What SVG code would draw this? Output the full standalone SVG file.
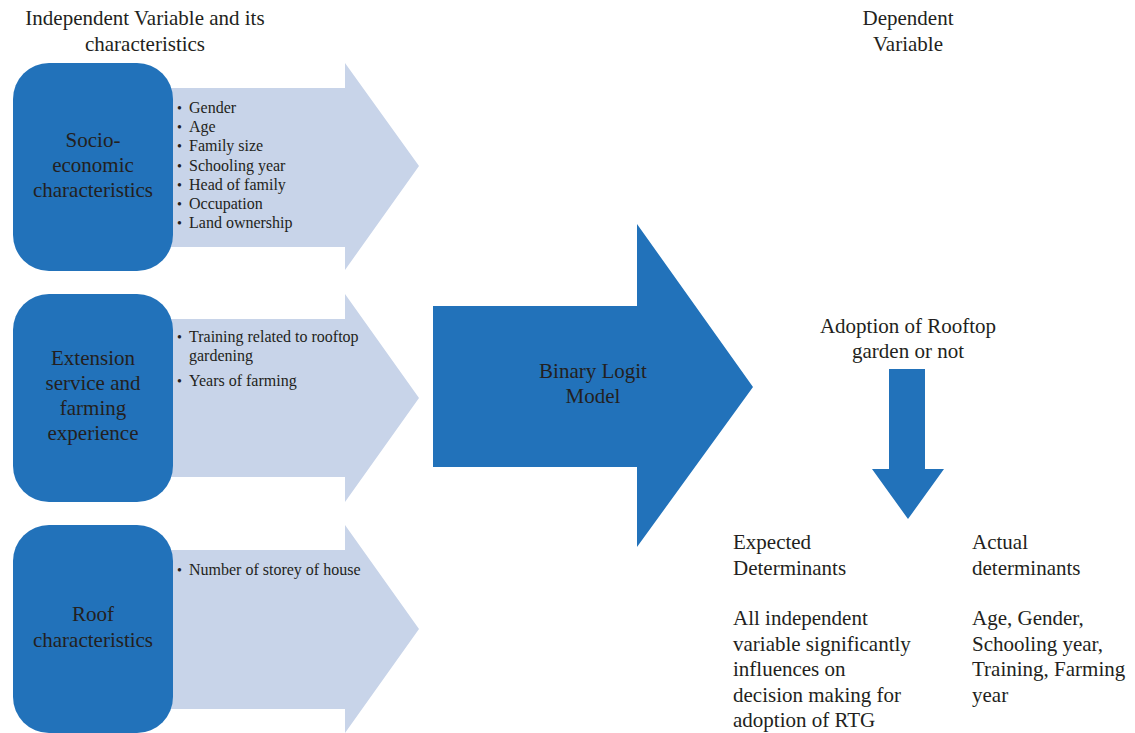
<svg xmlns="http://www.w3.org/2000/svg" width="1135" height="733" viewBox="0 0 1135 733">
<style>
text{font-family:"Liberation Serif","Times New Roman",serif;fill:#231F20;}
.t{font-size:21px;}
.c{text-anchor:middle;}
.b{font-size:16px;}
.dot{font-size:14px;}
.dark{fill:#2272BA;}
.light{fill:#C8D4E9;}
</style>
<rect width="1135" height="733" fill="#FFFFFF"/>
<g id="titles">
<text class="t c" x="145" y="25">Independent Variable and its</text>
<text class="t c" x="145" y="51">characteristics</text>
<text class="t c" x="908" y="25">Dependent</text>
<text class="t c" x="908" y="51">Variable</text>
</g>
<g id="connectors">
<polygon id="arrow-socio" class="light" points="93,88 345,88 345,63 419,166 345,270 345,247 93,247"/>
<polygon id="arrow-extension" class="light" points="93,319 345,319 345,294 419,398 345,502 345,477 93,477"/>
<polygon id="arrow-roof" class="light" points="93,550 345,550 345,525 419,629 345,733 345,709 93,709"/>
<polygon id="arrow-down" class="dark" points="889,369 925,369 925,469 944,469 908,519 872,469 889,469"/>
</g>
<g id="socio">
<rect class="dark" x="13" y="63" width="160" height="208" rx="36" ry="36"/>
<text class="t c" x="93" y="147">Socio-</text>
<text class="t c" x="93" y="172">economic</text>
<text class="t c" x="93" y="197">characteristics</text>
</g>
<g id="socio-list">
<text class="b" x="177" y="113"><tspan class="dot">•</tspan><tspan x="189">Gender</tspan></text>
<text class="b" x="177" y="132"><tspan class="dot">•</tspan><tspan x="189">Age</tspan></text>
<text class="b" x="177" y="151"><tspan class="dot">•</tspan><tspan x="189">Family size</tspan></text>
<text class="b" x="177" y="171"><tspan class="dot">•</tspan><tspan x="189">Schooling year</tspan></text>
<text class="b" x="177" y="190"><tspan class="dot">•</tspan><tspan x="189">Head of family</tspan></text>
<text class="b" x="177" y="209"><tspan class="dot">•</tspan><tspan x="189">Occupation</tspan></text>
<text class="b" x="177" y="228"><tspan class="dot">•</tspan><tspan x="189">Land ownership</tspan></text>
</g>
<g id="extension">
<rect class="dark" x="13" y="294" width="160" height="208" rx="36" ry="36"/>
<text class="t c" x="93" y="365">Extension</text>
<text class="t c" x="93" y="390">service and</text>
<text class="t c" x="93" y="415">farming</text>
<text class="t c" x="93" y="440">experience</text>
</g>
<g id="extension-list">
<text class="b" x="177" y="342"><tspan class="dot">•</tspan><tspan x="189">Training related to rooftop</tspan></text>
<text class="b" x="189" y="361">gardening</text>
<text class="b" x="177" y="386"><tspan class="dot">•</tspan><tspan x="189">Years of farming</tspan></text>
</g>
<g id="roof">
<rect class="dark" x="13" y="525" width="160" height="208" rx="36" ry="36"/>
<text class="t c" x="93" y="621">Roof</text>
<text class="t c" x="93" y="647">characteristics</text>
</g>
<g id="roof-list">
<text class="b" x="177" y="575"><tspan class="dot">•</tspan><tspan x="189">Number of storey of house</tspan></text>
</g>
<g id="model">
<polygon class="dark" points="433,306 637,306 637,224 753,387 637,547 637,467 433,467"/>
<text class="t c" x="593" y="378">Binary Logit</text>
<text class="t c" x="593" y="403">Model</text>
</g>
<g id="adoption">
<text class="t c" x="908" y="333">Adoption of Rooftop</text>
<text class="t c" x="908" y="358">garden or not</text>
</g>
<g id="expected">
<text class="t" x="733" y="549">Expected</text>
<text class="t" x="733" y="575">Determinants</text>
<text class="t" x="733" y="625">All independent</text>
<text class="t" x="733" y="651">variable significantly</text>
<text class="t" x="733" y="676">influences on</text>
<text class="t" x="733" y="702">decision making for</text>
<text class="t" x="733" y="727">adoption of RTG</text>
</g>
<g id="actual">
<text class="t" x="972" y="549">Actual</text>
<text class="t" x="972" y="575">determinants</text>
<text class="t" x="972" y="625">Age, Gender,</text>
<text class="t" x="972" y="651">Schooling year,</text>
<text class="t" x="972" y="676">Training, Farming</text>
<text class="t" x="972" y="702">year</text>
</g>
</svg>
